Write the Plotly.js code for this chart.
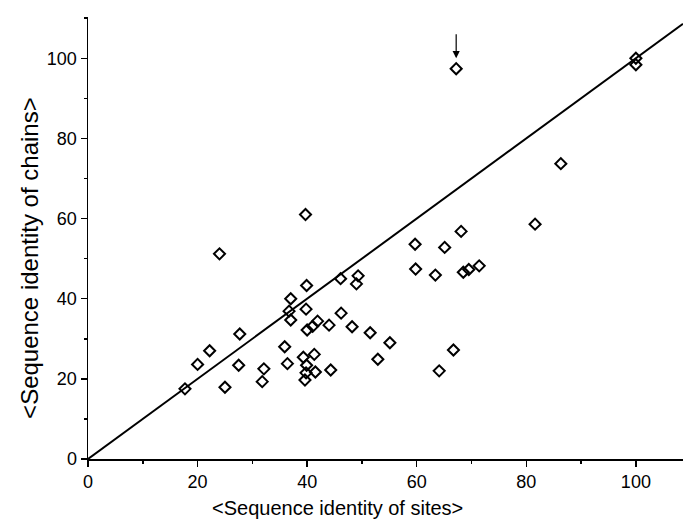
<!DOCTYPE html>
<html>
<head>
<meta charset="utf-8">
<script src="https://cdn.plot.ly/plotly-3.0.1.min.js"></script>
<style>html,body{margin:0;padding:0;overflow:hidden;background:#fff}#chart{width:683px;height:529px}</style>
</head>
<body>
<div id="chart"></div>
<script>
// Data
const siteIdentity = [17.7, 20.0, 22.2, 24.0, 25.0, 27.5, 27.7, 31.8, 32.1, 35.9, 36.4, 36.7, 37.0, 37.0,
  39.7, 39.9, 39.8, 40.0, 41.0, 41.9, 44.0, 46.2, 46.1, 49.3, 49.0, 48.2, 51.5, 55.1, 52.9,
  39.3, 41.3, 39.9, 39.8, 41.5, 39.6, 44.3, 59.7, 65.1, 59.8, 63.4, 68.1, 68.5, 69.5, 71.4,
  81.6, 86.3, 66.7, 64.1, 67.2, 100.0, 100.0];
const chainIdentity = [17.5, 23.6, 27.0, 51.2, 17.9, 23.4, 31.2, 19.3, 22.5, 28.0, 23.8, 36.9, 34.7, 40.0,
  61.0, 43.3, 37.4, 32.2, 33.1, 34.4, 33.4, 36.4, 45.0, 45.7, 43.7, 33.0, 31.5, 29.0, 24.9,
  25.4, 26.1, 23.4, 21.5, 21.7, 19.7, 22.2, 53.6, 52.8, 47.4, 45.9, 56.8, 46.6, 47.3, 48.2,
  58.6, 73.7, 27.2, 22.0, 97.4, 100.0, 98.4];
const diagonalX = [0, 108.6];
const diagonalY = [0, 108.6];
const arrowTip = [67.2, 100.0];
const arrowTail = [67.2, 106.4];
const xTickVals = [0, 20, 40, 60, 80, 100];
const yTickVals = [0, 20, 40, 60, 80, 100];
const xTitle = '&lt;Sequence identity of sites&gt;';
const yTitle = '&lt;Sequence identity of chains&gt;';

const font = "Liberation Sans, Arial, Helvetica, sans-serif";

const traces = [
  {
    x: diagonalX, y: diagonalY, mode: 'lines', type: 'scatter',
    line: {color: '#000', width: 2}, hoverinfo: 'skip', showlegend: false, cliponaxis: false
  },
  {
    x: siteIdentity, y: chainIdentity, mode: 'markers', type: 'scatter',
    marker: {symbol: 'diamond-open', size: 8.5, color: '#000', line: {color: '#000', width: 2}},
    showlegend: false, cliponaxis: false
  }
];

const layout = {
  width: 683, height: 529,
  margin: {l: 88, r: 0, t: 17, b: 70, pad: 0},
  paper_bgcolor: '#fff', plot_bgcolor: '#fff',
  font: {family: font, color: '#000', size: 18},
  showlegend: false,
  xaxis: {
    range: [0, 108.6], showgrid: false, zeroline: false,
    showline: true, linecolor: '#000', linewidth: 1.5,
    ticks: 'outside', ticklen: 6, tickwidth: 1.5, tickcolor: '#000',
    tickvals: xTickVals, tickfont: {family: font, size: 18, color: '#000'},
    minor: {ticks: 'outside', ticklen: 3, tickwidth: 1.5, tickcolor: '#000', dtick: 10, tick0: 0, showgrid: false}
  },
  yaxis: {
    range: [0, 110.3], showgrid: false, zeroline: false,
    showline: true, linecolor: '#000', linewidth: 1.5,
    ticks: 'outside', ticklen: 6, tickwidth: 1.5, tickcolor: '#000',
    tickvals: yTickVals, tickfont: {family: font, size: 18, color: '#000'},
    minor: {ticks: 'outside', ticklen: 3, tickwidth: 1.5, tickcolor: '#000', dtick: 10, tick0: 0, showgrid: false}
  },
  annotations: [
    {
      x: arrowTip[0], y: arrowTip[1], ax: arrowTail[0], ay: arrowTail[1],
      xref: 'x', yref: 'y', axref: 'x', ayref: 'y',
      text: '', showarrow: true, arrowhead: 2, arrowsize: 1.2, arrowwidth: 1.2, arrowcolor: '#000',
      standoff: 0
    },
    {
      text: xTitle, xref: 'paper', yref: 'paper', x: 0.419, y: 0, yshift: -49,
      xanchor: 'center', yanchor: 'middle', showarrow: false,
      font: {family: font, size: 20, color: '#000'}
    },
    {
      text: yTitle, xref: 'paper', yref: 'paper', x: 0, xshift: -58, y: 0.455,
      xanchor: 'center', yanchor: 'middle', textangle: -90, showarrow: false,
      font: {family: font, size: 24, color: '#000'}
    }
  ]
};

Plotly.newPlot('chart', traces, layout, {displayModeBar: false, staticPlot: true});
</script>
</body>
</html>
